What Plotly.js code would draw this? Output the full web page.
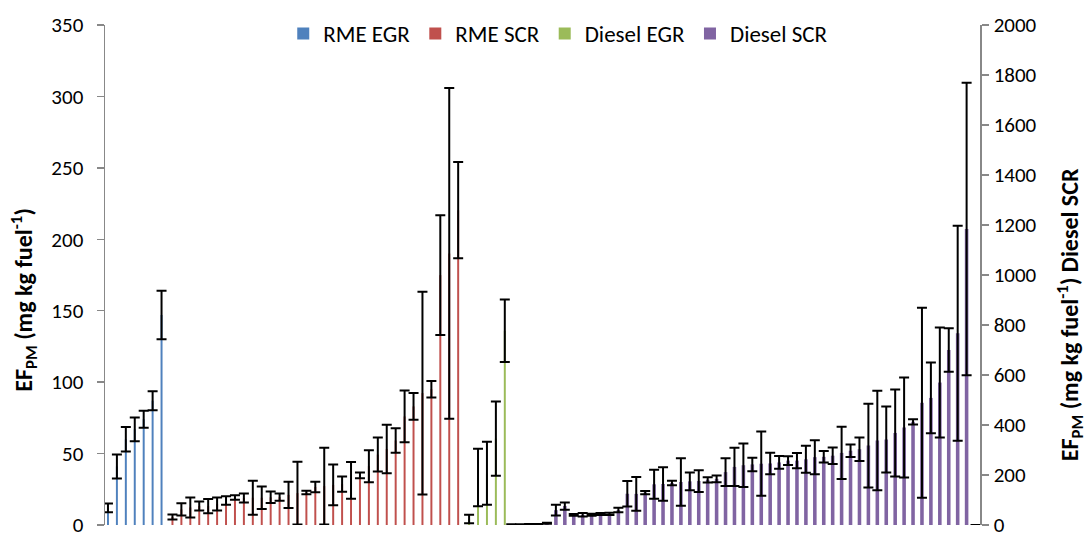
<!DOCTYPE html>
<html><head><meta charset="utf-8">
<script src="https://cdn.plot.ly/plotly-3.0.1.min.js"></script>
<style>html,body{margin:0;padding:0;background:#fff}#chart{width:1089px;height:538px}</style>
</head><body><div id="chart"></div>
<script>
// ---- data (category index where each series starts, values, error half-widths) ----
const rmeEgrStart = 0;
const rmeEgrValues = [12, 41, 60, 67, 74, 87, 147];
const rmeEgrErrors = [3, 8.4, 8.6, 8.3, 6, 6.7, 17];

const rmeScrStart = 7;
const rmeScrValues = [5.6, 10.9, 12.3, 13.3, 13.2, 14.7, 17.2, 19.3, 18.9, 19.1, 19.1, 19.4, 19.5, 21.1,
  22.3, 22.7, 26.6, 27.2, 28.1, 28.6, 31.2, 34.8, 41.2, 49.3, 53.2, 59.2, 76.0, 83.0, 92.3, 95.0,
  174.9, 190.1, 220.4];
const rmeScrErrors = [1.7, 4.3, 7, 3.2, 5, 4.6, 3, 1.6, 3.1, 11.9, 7.9, 4, 2.5, 9.2,
  21.9, 1.2, 3.7, 26.8, 14.2, 5.4, 12.9, 2, 11.2, 11.9, 16.9, 8.6, 18.1, 9.4, 70.9, 5.8,
  41.9, 115.8, 33.7];

const dieselEgrStart = 40;
const dieselEgrValues = [4.2, 33.2, 36.2, 60.5, 136.0];
const dieselEgrErrors = [2.9, 20.1, 22, 26, 21.9];

const dieselScrStart = 45;
const dieselScrValues = [2, 2, 3, 3, 7, 59.3, 75.8, 40.8, 40.8, 41.5, 44.1, 44.8, 59.9, 125.1, 124.5,
  129.8, 162.7, 164, 168, 172, 174.6, 175.9, 181, 184.5, 211.5, 232.4, 239.1, 242.3, 245.1, 246.3,
  250.3, 257.6, 257.6, 262.8, 271.4, 272.7, 277.3, 288.5, 297.2, 303.1, 318, 338, 342, 368.2, 390,
  413, 488.8, 508.4, 569.8, 700.2, 766.8, 1183.8, 0];
const dieselScrErrors = [1, 1, 1, 1, 2, 21.7, 14.5, 3.3, 7.2, 4, 4, 4.6, 9.2, 50.7, 67.2,
  6.6, 58, 67.2, 9.2, 94.9, 35.6, 43.5, 10.5, 13.8, 55.3, 76.4, 87, 27, 128.5, 42.8,
  25.7, 17.1, 30.3, 54, 67.9, 23, 32.9, 104.7, 25, 46.8, 167.5, 199, 131.7, 174, 199.6,
  10.5, 380, 141.6, 220, 87, 430, 585, 0];

const categoryCount = 98;
const seriesNames = ['RME EGR', 'RME SCR', 'Diesel EGR', 'Diesel SCR'];
const seriesColors = ['#4F81BD', '#C0504D', '#9BBB59', '#8064A2'];

function positions(start, n) { return Array.from({length: n}, (_, i) => start + i); }

const errStyle = arr => ({type: 'data', array: arr, visible: true, color: '#000000', thickness: 2, width: 5});

const traces = [
  {type: 'bar', name: seriesNames[0], x: positions(rmeEgrStart, rmeEgrValues.length), y: rmeEgrValues,
   width: 0.222, offset: -0.278, marker: {color: seriesColors[0]}, error_y: errStyle(rmeEgrErrors), yaxis: 'y'},
  {type: 'bar', name: seriesNames[1], x: positions(rmeScrStart, rmeScrValues.length), y: rmeScrValues,
   width: 0.222, offset: -0.056, marker: {color: seriesColors[1]}, error_y: errStyle(rmeScrErrors), yaxis: 'y'},
  {type: 'bar', name: seriesNames[2], x: positions(dieselEgrStart, dieselEgrValues.length), y: dieselEgrValues,
   width: 0.222, offset: 0.167, marker: {color: seriesColors[2]}, error_y: errStyle(dieselEgrErrors), yaxis: 'y'},
  {type: 'bar', name: seriesNames[3], x: positions(dieselScrStart, dieselScrValues.length), y: dieselScrValues,
   width: 0.4, offset: -0.2, marker: {color: seriesColors[3]}, error_y: errStyle(dieselScrErrors), yaxis: 'y2'}
];

const axisStyle = {
  ticks: 'outside', ticklen: 7, tickwidth: 1.5, tickcolor: '#888888',
  showline: true, linecolor: '#888888', linewidth: 1.5,
  showgrid: false, zeroline: false, fixedrange: true,
  ticklabeloverflow: 'allow', automargin: false,
  tickfont: {size: 21, color: '#000000'}
};

const layout = {
  width: 1089, height: 538,
  margin: {l: 105, r: 109, t: 21, b: 13},
  paper_bgcolor: '#ffffff', plot_bgcolor: '#ffffff',
  font: {family: 'Carlito, Lato, sans-serif', color: '#000000', size: 18},
  barmode: 'overlay',
  showlegend: true,
  legend: {orientation: 'h', x: 0.518, xanchor: 'center', y: 1.026, yanchor: 'top',
           font: {size: 23}, bgcolor: 'rgba(0,0,0,0)', itemwidth: 30},
  xaxis: {range: [-0.5, categoryCount - 0.5], showticklabels: false, showline: false, showgrid: false,
          zeroline: false, ticks: '', fixedrange: true, automargin: false},
  yaxis: Object.assign({range: [0, 350], tick0: 0, dtick: 50, ticklabelstandoff: 9}, axisStyle),
  yaxis2: Object.assign({range: [0, 2000], tick0: 0, dtick: 200, overlaying: 'y', side: 'right', ticklabelstandoff: 1}, axisStyle),
  annotations: [
    {text: '<b>EF<sub>PM</sub> (mg kg fuel<sup>-1</sup>)</b>', xref: 'paper', yref: 'paper',
     x: -0.093, y: 0.45, xanchor: 'center', yanchor: 'middle', textangle: -90, showarrow: false,
     font: {size: 24, color: '#000000'}},
    {text: '<b>EF<sub>PM</sub> (mg kg fuel<sup>-1</sup>) Diesel SCR</b>', xref: 'paper', yref: 'paper',
     x: 1.103, y: 0.42, xanchor: 'center', yanchor: 'middle', textangle: -90, showarrow: false,
     font: {size: 24, color: '#000000'}}
  ]
};

Plotly.newPlot('chart', traces, layout, {displayModeBar: false, staticPlot: true});
</script>
</body></html>
